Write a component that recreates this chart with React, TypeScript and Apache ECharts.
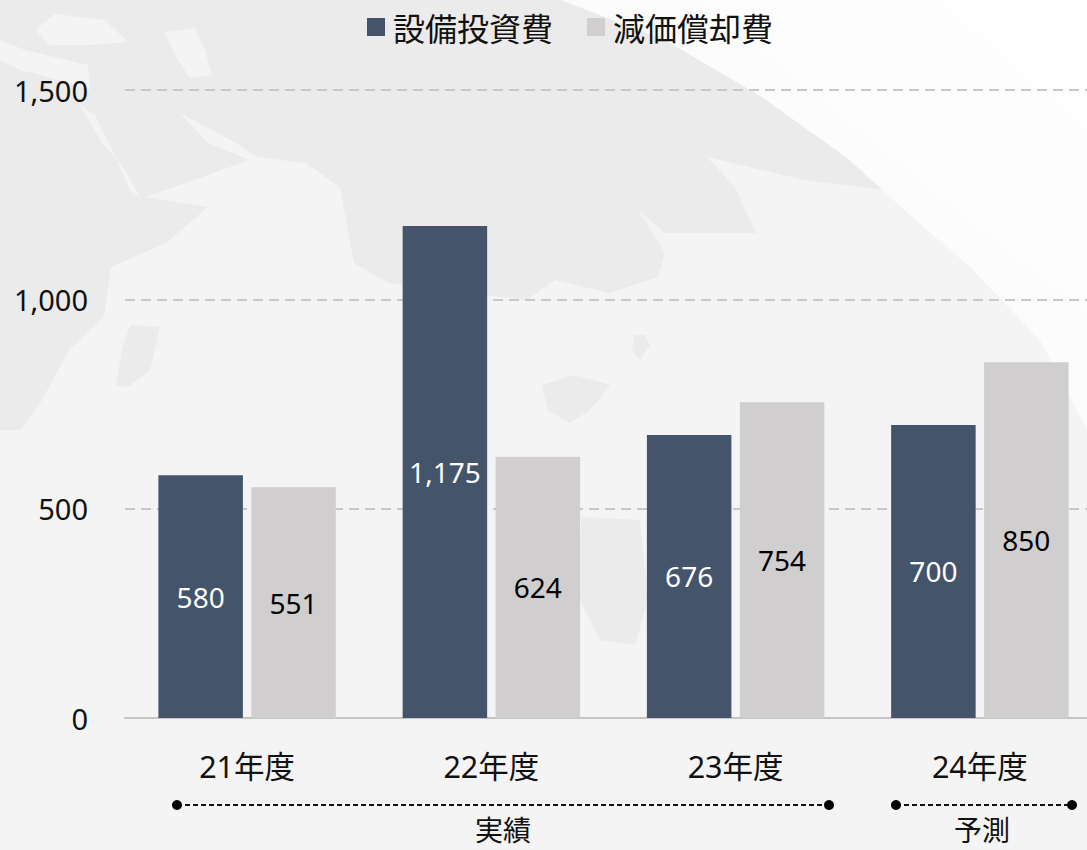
import React, { useEffect, useRef } from "react";
import * as echarts from "echarts";

const categories = ["21年度", "22年度", "23年度", "24年度"];
const capex = [580, 1175, 676, 700];
const depreciation = [551, 624, 754, 850];
const seriesNames = ["設備投資費", "減価償却費"];
const FONT = '"Noto Sans", "Noto Sans CJK JP", sans-serif';
const CJK = '"Noto Sans CJK JP", sans-serif';

const SEA = "#ebebeb";
const LAND = "#f4f4f4";

const sea: number[][] = [
  [0, 0], [561, 0], [665, 40], [762, 97], [846, 157], [885, 190], [804, 180], [707, 157], [735, 187],
  [756, 233], [700, 233], [665, 233], [638, 210], [665, 253], [658, 277], [610, 293], [555, 280], [527, 300],
  [388, 283], [354, 263], [340, 187], [305, 163], [257, 157], [236, 143], [180, 113], [208, 143], [250, 160],
  [146, 197], [208, 207], [166, 243], [111, 267], [104, 317], [69, 350], [42, 400], [21, 430], [0, 430],
];
const space: number[][] = [
  [561, 0], [665, 40], [762, 97], [846, 157], [901, 207], [970, 267], [1040, 340], [1087, 430], [1087, 0],
];
const landBits: number[][][] = [
  [[35, 30], [55, 14], [105, 20], [128, 42], [90, 45], [50, 45]],
  [[165, 32], [195, 28], [205, 50], [212, 75], [190, 78], [175, 55]],
  [[0, 40], [25, 50], [88, 65], [90, 90], [60, 80], [20, 70], [0, 60]],
  [[80, 105], [95, 115], [112, 150], [130, 190], [140, 197], [125, 170], [100, 140]],
];
const seaBits: number[][][] = [
  [[130, 325], [160, 327], [150, 370], [128, 387], [116, 385], [122, 350]],
  [[581, 517], [640, 520], [648, 600], [635, 645], [600, 640], [580, 600]],
  [[542, 385], [575, 375], [610, 385], [590, 410], [570, 423], [548, 410]],
  [[634, 335], [645, 335], [650, 345], [640, 360], [632, 350]],
];

const bgShapes = [
  { type: "polygon", z: -5, silent: true, shape: { points: sea }, style: { fill: SEA } },
  ...landBits.map((p) => ({ type: "polygon", z: -4, silent: true, shape: { points: p }, style: { fill: LAND } })),
  ...seaBits.map((p) => ({ type: "polygon", z: -4, silent: true, shape: { points: p }, style: { fill: SEA } })),
  {
    type: "polygon", z: -3, silent: true, shape: { points: space },
    style: {
      fill: new echarts.graphic.LinearGradient(0, 1, 1, 0, [
        { offset: 0, color: "#f8f8f8" }, { offset: 0.45, color: "#fbfbfb" }, { offset: 1, color: "#ffffff" },
      ]),
    },
  },
];

const bracket = (x1: number, x2: number, label: string, cx: number) => [
  { type: "line", z: 5, silent: true, shape: { x1, y1: 805, x2, y2: 805 }, style: { stroke: "#111", lineWidth: 2, lineDash: [5, 3] } },
  { type: "circle", z: 5, silent: true, shape: { cx: x1, cy: 805, r: 5 }, style: { fill: "#000" } },
  { type: "circle", z: 5, silent: true, shape: { cx: x2, cy: 805, r: 5 }, style: { fill: "#000" } },
  {
    type: "text", z: 5, silent: true, x: cx, y: 829,
    style: { text: label, fill: "#111", font: `28px ${CJK}`, align: "center", verticalAlign: "middle" },
  },
];

export default function App() {
  const ref = useRef<HTMLDivElement>(null);
  useEffect(() => {
    document.body.style.margin = "0";
    document.body.style.overflow = "hidden";
    const chart = echarts.init(ref.current!, null, { renderer: "svg" });
    const barSeries = (name: string, data: number[], color: string, labelColor: string) => ({
      name, type: "bar", data, barWidth: 84.5, barGap: "10%",
      itemStyle: { color },
      label: {
        show: true, position: "inside", color: labelColor, fontSize: 28, fontFamily: FONT,
        formatter: (p: any) => Number(p.value).toLocaleString("en-US"),
      },
    });
    chart.setOption({
      animation: false,
      backgroundColor: LAND,
      legend: {
        left: 362, top: 6, itemWidth: 18, itemHeight: 18, itemGap: 34, icon: "rect",
        textStyle: { fontSize: 32, color: "#111", fontFamily: CJK, padding: [0, 0, 0, 3] },
        data: seriesNames,
      },
      grid: { left: 125, top: 90, width: 977, height: 628, outerBoundsMode: "none" },
      xAxis: {
        type: "category", data: categories,
        axisTick: { show: false },
        axisLine: { lineStyle: { color: "#c4c4c4", width: 2 } },
        axisLabel: { color: "#111", fontSize: 30.5, fontFamily: FONT, margin: 33 },
      },
      yAxis: {
        type: "value", min: 0, max: 1500, interval: 500,
        axisLine: { show: false }, axisTick: { show: false },
        axisLabel: {
          color: "#111", fontSize: 29, fontFamily: FONT, margin: 37,
          formatter: (v: number) => v.toLocaleString("en-US"),
        },
        splitLine: { lineStyle: { color: "#c8c8c8", width: 2, type: [10, 6] } },
      },
      series: [
        barSeries(seriesNames[0], capex, "#44546a", "#ffffff"),
        barSeries(seriesNames[1], depreciation, "#d0cece", "#000000"),
      ],
      graphic: {
        elements: [
          ...bgShapes,
          ...bracket(177, 829, "実績", 503),
          ...bracket(896, 1072, "予測", 982),
        ],
      },
    });
    return () => chart.dispose();
  }, []);
  return <div ref={ref} style={{ position: "absolute", left: 0, top: 0, width: 1087, height: 850 }} />;
}
